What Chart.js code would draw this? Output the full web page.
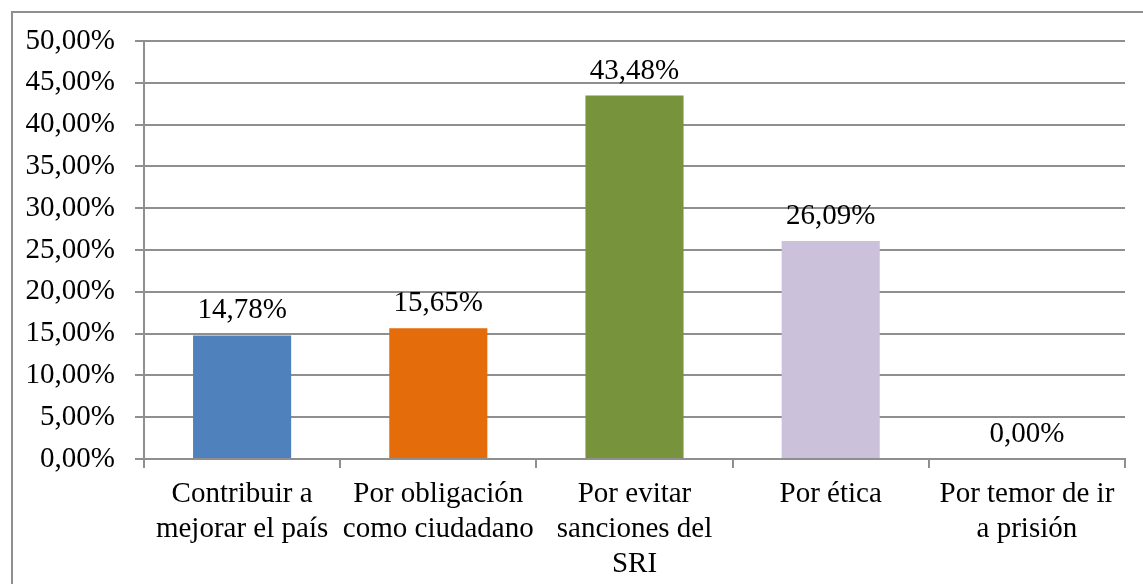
<!DOCTYPE html>
<html>
<head>
<meta charset="utf-8">
<script src="https://cdn.jsdelivr.net/npm/chart.js@4"></script>
<style>
  html, body { margin: 0; padding: 0; background: #fff; overflow: hidden; }
  #wrap { width: 1143px; height: 584px; position: relative; }
</style>
</head>
<body>
<div id="wrap"><canvas id="chart"></canvas></div>
<script>
// categorías y porcentajes
const categories = [
  ['Contribuir a', 'mejorar el país'],
  ['Por obligación', 'como ciudadano'],
  ['Por evitar', 'sanciones del', 'SRI'],
  ['Por ética'],
  ['Por temor de ir', 'a prisión'],
];
const values = [14.78, 15.65, 43.48, 26.09, 0];
const barColors = ['#4F81BD', '#E46C0A', '#77933C', '#CCC1DA', '#4F81BD'];
const yTickStep = 5;
const yMax = 50;

const GRID = '#8f8f8f';
const FONT = { family: "'Liberation Serif', 'Times New Roman', serif", size: 29, lineHeight: 1.2 };

const fmt = v => v.toFixed(2).replace('.', ',') + '%';

// borde exterior del área del gráfico
const outerBorder = {
  id: 'outerBorder',
  beforeDraw(chart) {
    const ctx = chart.ctx;
    ctx.save();
    ctx.strokeStyle = GRID;
    ctx.lineWidth = 2;
    ctx.strokeRect(12, 12, 1200, 700);
    ctx.restore();
  }
};

// etiquetas de valor encima de cada barra
const valueLabels = {
  id: 'valueLabels',
  afterDatasetsDraw(chart) {
    const ctx = chart.ctx;
    const meta = chart.getDatasetMeta(0);
    ctx.save();
    ctx.font = `${FONT.size}px ${FONT.family}`;
    ctx.fillStyle = '#000';
    ctx.textAlign = 'center';
    ctx.textBaseline = 'alphabetic';
    meta.data.forEach((bar, i) => {
      ctx.fillText(fmt(values[i]), bar.x, bar.y - 17);
    });
    ctx.restore();
  }
};

new Chart(document.getElementById('chart'), {
  type: 'bar',
  data: {
    labels: categories,
    datasets: [{
      data: values,
      backgroundColor: barColors,
      borderWidth: 0,
      barPercentage: 0.5,
      categoryPercentage: 1.0,
    }]
  },
  options: {
    responsive: true,
    maintainAspectRatio: false,
    animation: false,
    layout: { padding: { left: 12, right: 18, top: 41, bottom: 0 } },
    plugins: { legend: { display: false }, tooltip: { enabled: false } },
    scales: {
      x: {
        afterFit(scale) { scale.height = 125; },
        grid: {
          offset: true,
          drawOnChartArea: false,
          drawTicks: true,
          tickLength: 9,
          color: GRID,
          lineWidth: 2,
        },
        border: { display: true, color: GRID, width: 2 },
        ticks: { color: '#000', font: FONT, padding: 9, maxRotation: 0, autoSkip: false },
      },
      y: {
        min: 0,
        max: yMax,
        afterFit(scale) { scale.width = 132; },
        grid: { color: GRID, lineWidth: 2, tickLength: 9, drawTicks: true },
        border: { display: true, color: GRID, width: 2 },
        ticks: {
          stepSize: yTickStep,
          color: '#000',
          font: FONT,
          padding: 20,
          callback: v => fmt(v),
        },
      }
    }
  },
  plugins: [outerBorder, valueLabels]
});
</script>
</body>
</html>
